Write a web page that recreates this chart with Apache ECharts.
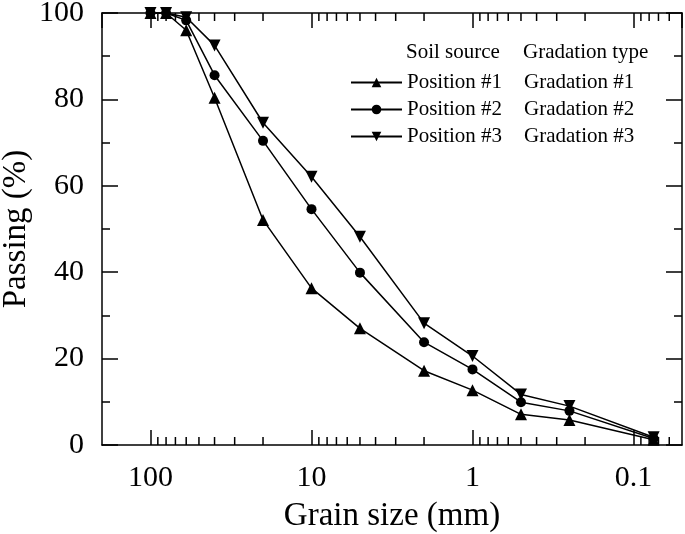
<!DOCTYPE html>
<html>
<head>
<meta charset="utf-8">
<script src="https://cdn.jsdelivr.net/npm/echarts@6/dist/echarts.min.js"></script>
<style>html,body{margin:0;padding:0;background:#fff}#c{width:685px;height:534px}</style>
</head>
<body>
<div id="c"></div>
<script>
const grainSizes = [100, 80, 60, 40, 20, 10, 5, 2, 1, 0.5, 0.25, 0.075];
const position1 = [100, 100, 96.0, 80.4, 52.1, 36.3, 27.0, 17.2, 12.7, 7.1, 5.8, 1.2];
const position2 = [100, 100, 98.3, 85.6, 70.4, 54.6, 39.9, 23.8, 17.5, 9.9, 7.9, 1.5];
const position3 = [100, 100, 99.0, 92.5, 74.6, 62.1, 48.2, 28.2, 20.6, 11.7, 9.0, 1.8];
const seriesNames = ['Position #1', 'Position #2', 'Position #3'];
const gradationNames = ['Gradation #1', 'Gradation #2', 'Gradation #3'];
const xMinorTicks = [90, 80, 70, 60, 50, 40, 30, 20, 9, 8, 7, 6, 5, 4, 3, 2,
  0.9, 0.8, 0.7, 0.6, 0.5, 0.4, 0.3, 0.2, 0.09, 0.08, 0.07, 0.06];

const FONT = 'Liberation Serif';
const chart = echarts.init(document.getElementById('c'), null, {renderer: 'canvas'});

function pairs(vals) { return grainSizes.map((g, i) => [g, vals[i]]); }

const lineSeries = (name, vals, symbol, size, rotate) => ({
  name: name, type: 'line', xAxisIndex: 0, yAxisIndex: 0,
  data: pairs(vals), symbol: symbol, symbolSize: size, symbolRotate: rotate,
  lineStyle: {color: '#000', width: 1.5}, itemStyle: {color: '#000'},
  z: 5, animation: false
});

const xBase = {
  type: 'log', logBase: 10, min: 0.05, max: 200, inverse: true,
  splitLine: {show: false}, minorTick: {show: false}
};
const yBase = {
  type: 'value', min: 0, max: 100, interval: 20,
  splitLine: {show: false},
  axisLine: {show: true, onZero: false, lineStyle: {color: '#000', width: 1.5}},
  axisTick: {show: true, inside: true, length: 16, lineStyle: {color: '#000', width: 1.5}},
  minorTick: {show: true, splitNumber: 2, length: 8, lineStyle: {color: '#000', width: 1.5}}
};

const option = {
  backgroundColor: '#fff',
  animation: false,
  grid: {left: 102, top: 13, right: 3, bottom: 89, containLabel: false, outerBoundsMode: 'none'},
  title: {
    left: 406, top: 42, padding: 0,
    text: '{a|Soil source}{b|Gradation type}',
    textStyle: {
      fontWeight: 'normal',
      rich: {
        a: {fontFamily: FONT, fontSize: 21, fontWeight: 'normal', color: '#000', width: 117},
        b: {fontFamily: FONT, fontSize: 21, fontWeight: 'normal', color: '#000'}
      }
    }
  },
  legend: {
    orient: 'vertical', left: 350, top: 71, padding: 0,
    itemWidth: 51, itemHeight: 12, itemGap: 4,
    data: seriesNames,
    formatter: function (name) {
      const i = seriesNames.indexOf(name);
      return '{a|' + name + '}{b|' + gradationNames[i] + '}';
    },
    textStyle: {
      fontFamily: FONT, fontSize: 21, color: '#000', lineHeight: 23, padding: [0, 0, 0, 0],
      rich: {
        a: {fontFamily: FONT, fontSize: 21, color: '#000', width: 117},
        b: {fontFamily: FONT, fontSize: 21, color: '#000'}
      }
    }
  },
  xAxis: [
    Object.assign({}, xBase, {
      position: 'bottom',
      name: 'Grain size (mm)', nameLocation: 'middle', nameGap: 55, nameMoveOverlap: false,
      nameTextStyle: {fontFamily: FONT, fontSize: 33, color: '#000'},
      axisLine: {show: true, onZero: false, lineStyle: {color: '#000', width: 1.5}},
      axisTick: {show: true, inside: true, length: 15, lineStyle: {color: '#000', width: 1.5}},
      axisLabel: {show: true, fontFamily: FONT, fontSize: 30, color: '#000', margin: 18,
        showMinLabel: false, showMaxLabel: false,
        formatter: function (v) { return String(+v.toPrecision(6)); }}
    }),
    Object.assign({}, xBase, {
      position: 'top',
      axisLine: {show: true, onZero: false, lineStyle: {color: '#000', width: 1.5}},
      axisTick: {show: true, inside: true, length: 15, lineStyle: {color: '#000', width: 1.5}},
      axisLabel: {show: false}
    })
  ],
  yAxis: [
    Object.assign({}, yBase, {
      position: 'left',
      name: 'Passing (%)', nameLocation: 'middle', nameGap: 69, nameRotate: 90, nameMoveOverlap: false,
      nameTextStyle: {fontFamily: FONT, fontSize: 33, color: '#000'},
      axisLabel: {show: true, fontFamily: FONT, fontSize: 30, color: '#000', margin: 18}
    }),
    Object.assign({}, yBase, {
      position: 'right',
      axisLabel: {show: false}
    })
  ],
  series: [
    lineSeries(seriesNames[0], position1, 'triangle', 12, 0),
    lineSeries(seriesNames[1], position2, 'circle', 10, 0),
    lineSeries(seriesNames[2], position3, 'triangle', 12, 180),
    {
      type: 'custom', xAxisIndex: 0, yAxisIndex: 0, silent: true, z: 1,
      data: xMinorTicks.map(v => [v]),
      renderItem: function (params, api) {
        const v = api.value(0);
        const b = api.coord([v, 0]);
        const t = api.coord([v, 100]);
        const style = {stroke: '#000', lineWidth: 1.5};
        return {
          type: 'group',
          children: [
            {type: 'line', shape: {x1: b[0], y1: b[1], x2: b[0], y2: b[1] - 8}, style: style},
            {type: 'line', shape: {x1: t[0], y1: t[1], x2: t[0], y2: t[1] + 8}, style: style}
          ]
        };
      }
    }
  ]
};
chart.setOption(option);
</script>
</body>
</html>
